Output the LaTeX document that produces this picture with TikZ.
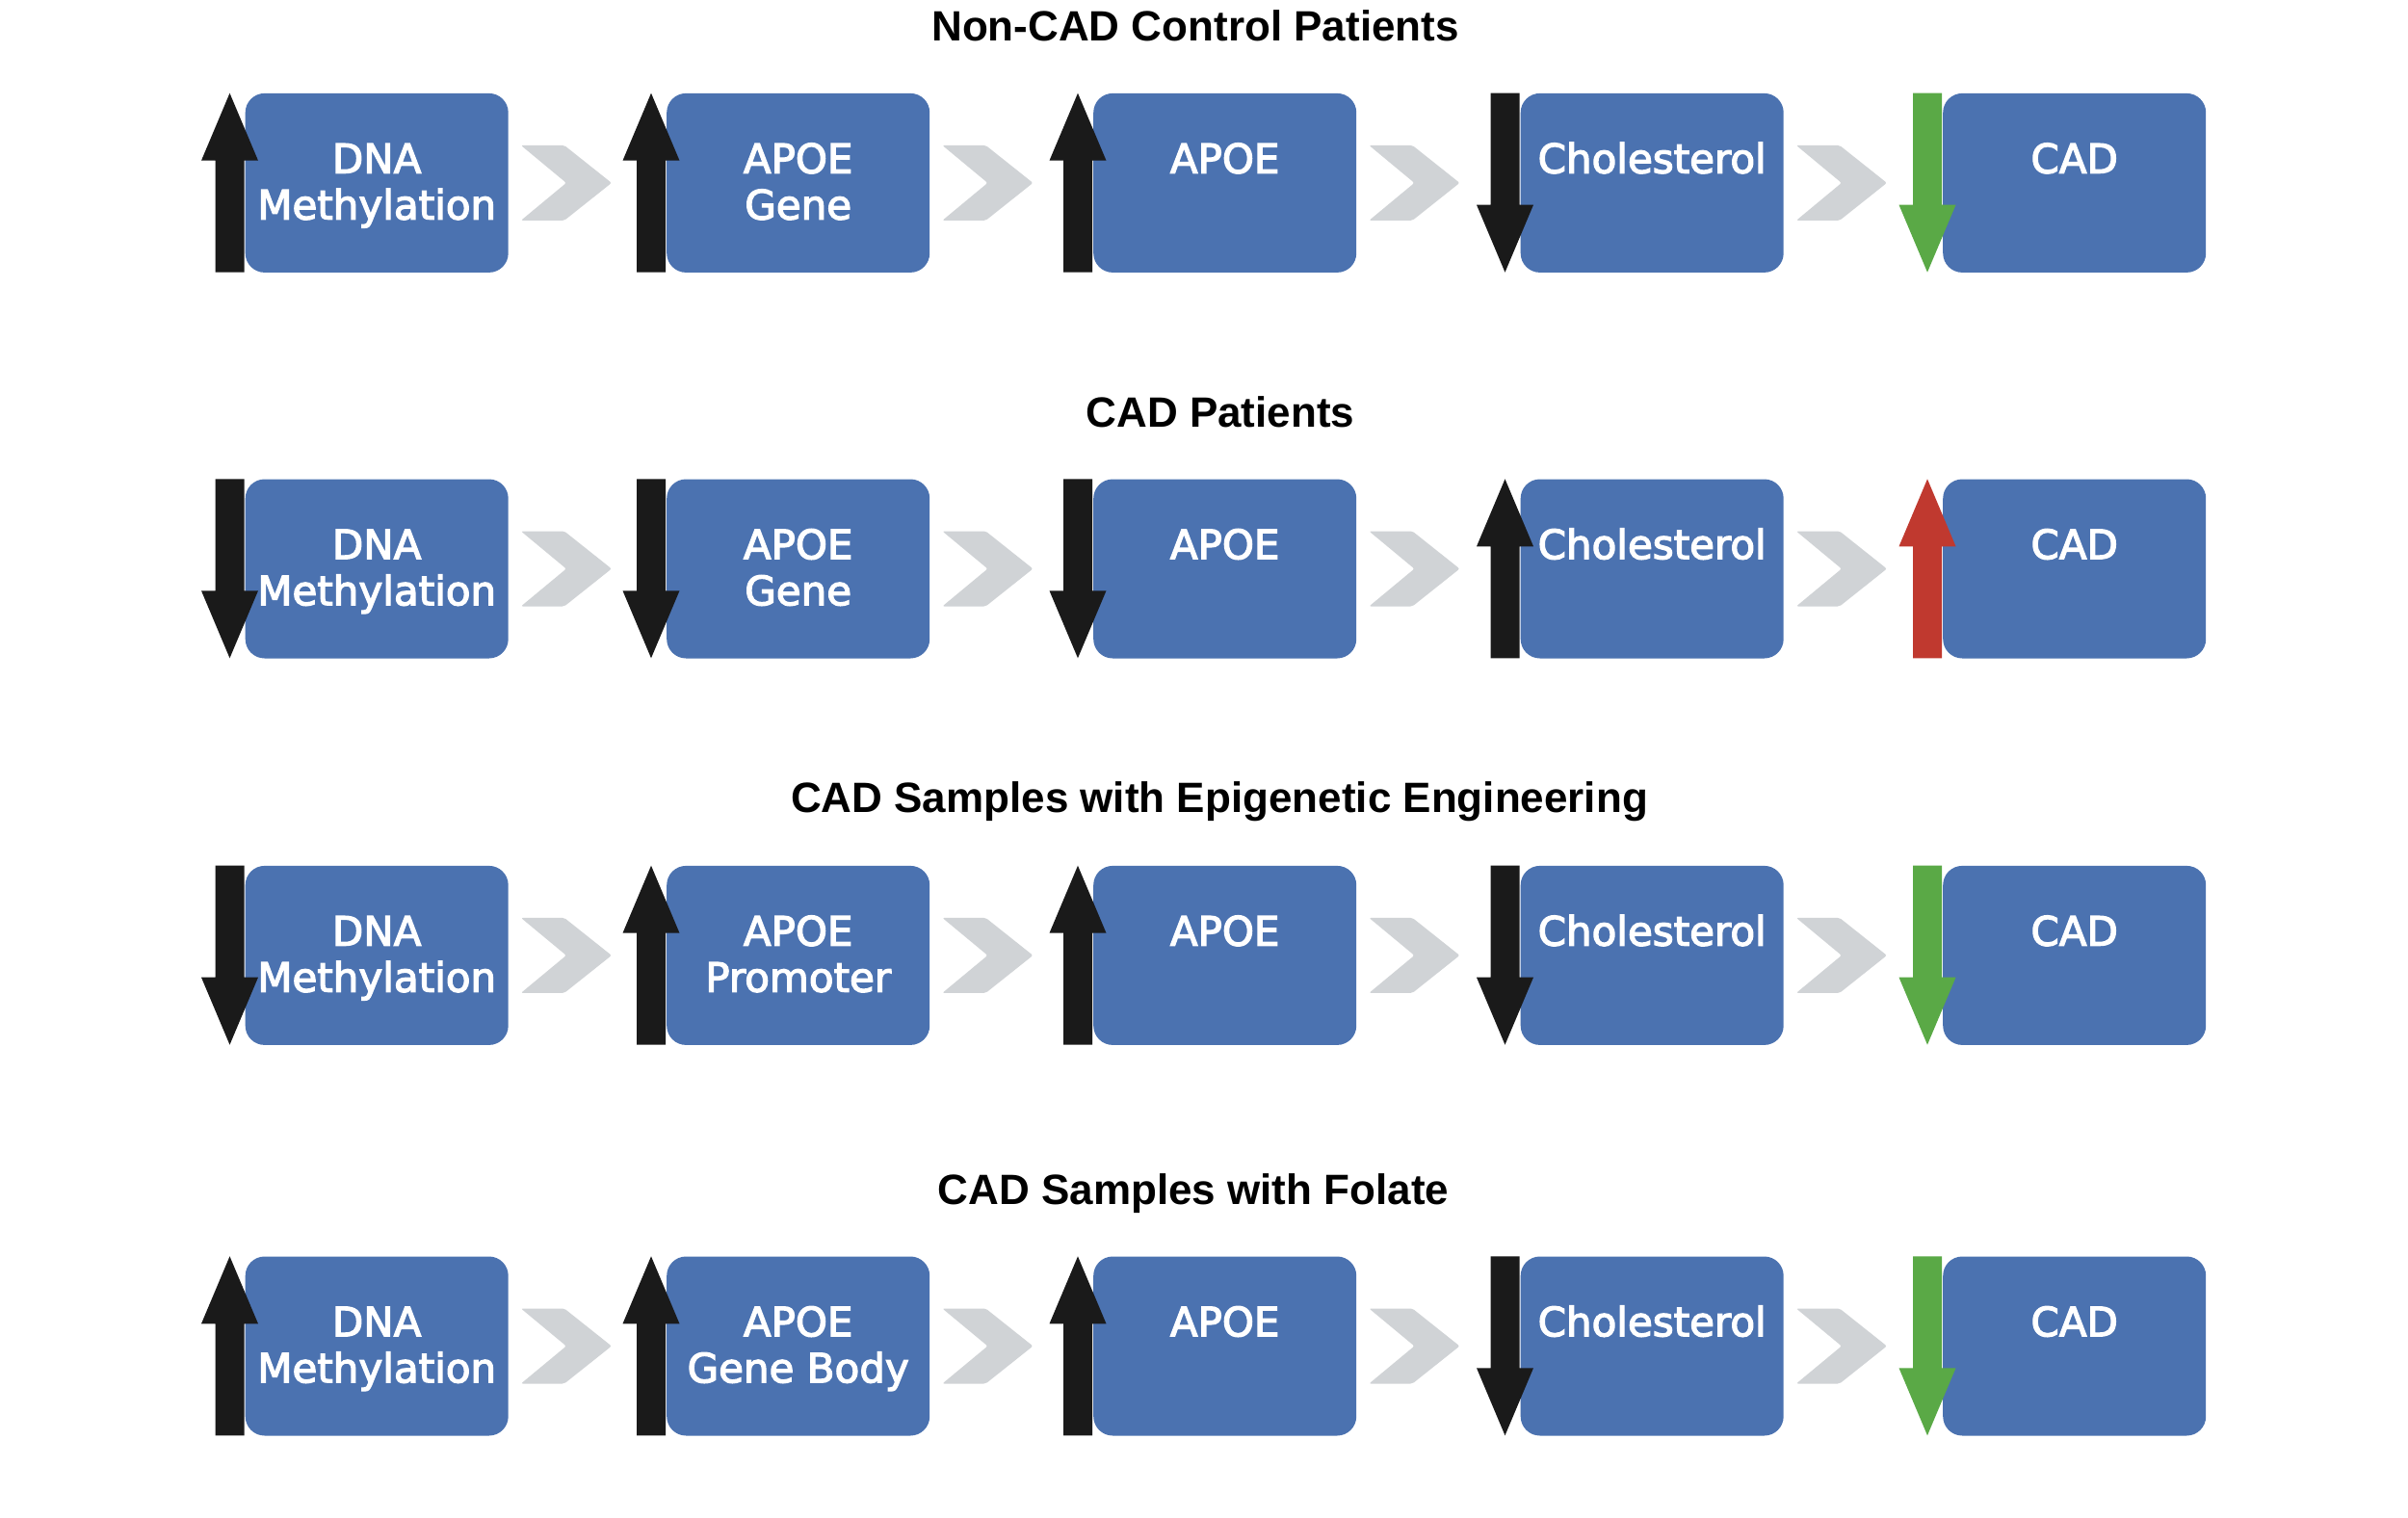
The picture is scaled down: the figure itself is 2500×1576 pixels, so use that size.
\documentclass[tikz,border=0pt]{standalone}
\usepackage{fontspec}
\setmainfont{DejaVu Sans}
\newfontfamily\boxfont{DejaVu Sans}[FakeBold=3]
\newfontfamily\titlefont{Liberation Sans}
\usetikzlibrary{calc}
\definecolor{boxblue}{RGB}{75,114,176}
\definecolor{arrblack}{RGB}{26,26,26}
\definecolor{arrgreen}{RGB}{90,169,70}
\definecolor{arrred}{RGB}{192,57,47}
\definecolor{chevgray}{RGB}{208,211,214}
\newcommand\bxt[1]{\parbox[t]{273pt}{\centering #1}}
\tikzset{
  box/.style={fill=boxblue, rounded corners=20pt, minimum width=273pt,
    minimum height=186pt, inner sep=0pt, anchor=north west},
  lbl/.style={text=white, anchor=base, inner sep=0pt,
    font=\boxfont\fontsize{42}{48}\selectfont},
  ttl/.style={anchor=base, inner sep=0pt,
    font=\titlefont\bfseries\fontsize{44}{50}\selectfont},
  pics/chev/.style={code={
    \fill[chevgray, rounded corners=2pt] (0,-39) -- (45,-39) -- (94,0)
      -- (45,39) -- (0,39) -- (47,0) -- cycle;}},
  pics/uparr/.style={code={
    \fill[#1] (0,0) -- (29.5,70) -- (15,70) -- (15,186) -- (-15,186)
      -- (-15,70) -- (-29.5,70) -- cycle;}},
  pics/dnarr/.style={code={
    \fill[#1] (-15,0) -- (15,0) -- (15,116) -- (29.5,116) -- (0,186)
      -- (-29.5,116) -- (-15,116) -- cycle;}},
}
% #1 name, #2 x, #3 top y, #4 label, #5 arrow pic, #6 colour
\newcommand\mkstage[6]{%
  \node[box] (b#1) at (#2,#3) {};
  \node[lbl] (t#1) at ($(b#1.north)+(0,83)$) {\bxt{#4}};
  \pic at ($(b#1.north west)+(-16,0)$) {#5=#6};
}
\newcommand\mkchevs[1]{%
  \pic at ($(b#11.east)+(13,0)$) {chev};
  \pic at ($(b#12.east)+(13,0)$) {chev};
  \pic at ($(b#13.east)+(13,0)$) {chev};
  \pic at ($(b#14.east)+(13,0)$) {chev};
}
\begin{document}
\begin{tikzpicture}[x=1pt,y=-1pt]
\fill[white] (0,0) rectangle (2500,1576);
\useasboundingbox (0,0) rectangle (2500,1576);

% Row 1
\node[ttl] (title1) at (1241,42.3) {Non-CAD Control Patients};
\mkstage{11}{254.5}{96.7}{DNA\\Methylation}{uparr}{arrblack}
\mkstage{12}{692}{96.7}{APOE\\Gene}{uparr}{arrblack}
\mkstage{13}{1135}{96.7}{APOE}{uparr}{arrblack}
\mkstage{14}{1578.5}{96.7}{Cholesterol}{dnarr}{arrblack}
\mkstage{15}{2017}{96.7}{CAD}{dnarr}{arrgreen}
\mkchevs{1}

% Row 2
\node[ttl] (title2) at (1267,443.3) {CAD Patients};
\mkstage{21}{254.5}{497.3}{DNA\\Methylation}{dnarr}{arrblack}
\mkstage{22}{692}{497.3}{APOE\\Gene}{dnarr}{arrblack}
\mkstage{23}{1135}{497.3}{APOE}{dnarr}{arrblack}
\mkstage{24}{1578.5}{497.3}{Cholesterol}{uparr}{arrblack}
\mkstage{25}{2017}{497.3}{CAD}{uparr}{arrred}
\mkchevs{2}

% Row 3
\node[ttl] (title3) at (1266,843.3) {CAD Samples with Epigenetic Engineering};
\mkstage{31}{254.5}{898.7}{DNA\\Methylation}{dnarr}{arrblack}
\mkstage{32}{692}{898.7}{APOE\\Promoter}{uparr}{arrblack}
\mkstage{33}{1135}{898.7}{APOE}{uparr}{arrblack}
\mkstage{34}{1578.5}{898.7}{Cholesterol}{dnarr}{arrblack}
\mkstage{35}{2017}{898.7}{CAD}{dnarr}{arrgreen}
\mkchevs{3}

% Row 4
\node[ttl] (title4) at (1239,1250) {CAD Samples with Folate};
\mkstage{41}{254.5}{1304.3}{DNA\\Methylation}{uparr}{arrblack}
\mkstage{42}{692}{1304.3}{APOE\\Gene Body}{uparr}{arrblack}
\mkstage{43}{1135}{1304.3}{APOE}{uparr}{arrblack}
\mkstage{44}{1578.5}{1304.3}{Cholesterol}{dnarr}{arrblack}
\mkstage{45}{2017}{1304.3}{CAD}{dnarr}{arrgreen}
\mkchevs{4}
\end{tikzpicture}
\end{document}
